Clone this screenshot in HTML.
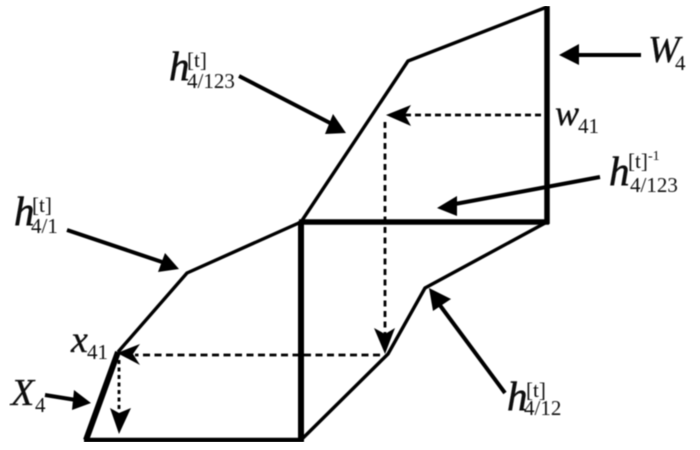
<!DOCTYPE html>
<html>
<head>
<meta charset="utf-8">
<style>
html,body{margin:0;padding:0;background:#fff;width:700px;height:450px;overflow:hidden}
svg{display:block}
text{font-family:"Liberation Serif",serif;fill:#111}
.i{font-style:italic;stroke:#111;stroke-width:.35px}
.h{font-size:41px;font-style:italic;stroke:#111;stroke-width:.6px}
.s{font-size:21px}
</style>
</head>
<body>
<svg width="700" height="450" viewBox="0 0 700 450" xmlns="http://www.w3.org/2000/svg">
<defs><filter id="b" x="0" y="0" width="100%" height="100%"><feGaussianBlur stdDeviation="0.5"/></filter></defs>
<g filter="url(#b)">
<g fill="none" stroke="#000" stroke-linejoin="round">
  <polyline points="301,222 408,61 547,7" stroke-width="3.4"/>
  <polyline points="301,222 187,273 118,352" stroke-width="3.4"/>
  <polyline points="301,440 388,354 425,288 547,222" stroke-width="3.4"/>
  <line x1="118" y1="352" x2="86" y2="440" stroke-width="6"/>
  <line x1="84" y1="440" x2="303" y2="440" stroke-width="4.5"/>
  <line x1="301" y1="221" x2="301" y2="442" stroke-width="6"/>
  <line x1="299" y1="222" x2="549" y2="222" stroke-width="5.5"/>
  <line x1="547" y1="6" x2="547" y2="224" stroke-width="5.5"/>
  <!-- dashed -->
  <line x1="541" y1="115" x2="405" y2="115" stroke-width="2.8" stroke-dasharray="6 4"/>
  <line x1="385" y1="122" x2="385" y2="335" stroke-width="2.8" stroke-dasharray="6 4.5"/>
  <line x1="380" y1="355" x2="135" y2="355" stroke-width="2.8" stroke-dasharray="7 4.5"/>
  <line x1="119" y1="360" x2="119" y2="412" stroke-width="2.8" stroke-dasharray="4 3.5"/>
  <!-- solid arrow shafts -->
  <line x1="641" y1="55" x2="574" y2="55" stroke-width="4"/>
  <line x1="600" y1="177" x2="455" y2="204" stroke-width="4"/>
  <line x1="239" y1="76" x2="332" y2="124" stroke-width="4"/>
  <line x1="67" y1="230" x2="165" y2="263" stroke-width="4"/>
  <line x1="45" y1="395" x2="76" y2="400" stroke-width="4"/>
  <line x1="505" y1="393" x2="439" y2="304" stroke-width="4"/>
</g>
<g fill="#000">
  <!-- dashed heads -->
  <polygon points="386,115 411,105 405,115 411,126"/>
  <polygon points="385,354 374,328 385,334 395,328"/>
  <polygon points="117,353 140,344 133,354 140,365"/>
  <polygon points="119,434 110,408 119,413 131,408"/>
  <!-- solid heads -->
  <polygon points="559,55 579,44 579,65"/>
  <polygon points="437,208 457,196 457,216"/>
  <polygon points="346,133 333,114 325,134"/>
  <polygon points="179,269 165,253 158,272"/>
  <polygon points="91,403 74,390 72,410"/>
  <polygon points="429,288 451,299 433,311"/>
</g>
<!-- labels -->
<text x="169" y="80" class="h">h</text>
<text x="187" y="67" class="s">[t]</text>
<text x="187" y="88" class="s">4/123</text>

<text x="14" y="225" class="h">h</text>
<text x="32" y="212" class="s">[t]</text>
<text x="31" y="233" class="s">4/1</text>

<text x="71" y="352" font-size="38" class="i">x</text>
<text x="87" y="359" class="s">41</text>

<text x="11" y="405" font-size="38" class="i">X</text>
<text x="35" y="412" class="s">4</text>

<text x="648" y="62" font-size="38" class="i">W</text>
<text x="675" y="70" class="s">4</text>

<text x="555" y="125" font-size="36" class="i">w</text>
<text x="578" y="133" class="s">41</text>

<text x="609" y="185" class="h">h</text>
<text x="628" y="168" class="s">[t]</text>
<text x="648" y="160" font-size="14">-1</text>
<text x="630" y="192" class="s">4/123</text>

<text x="507" y="410" class="h">h</text>
<text x="526" y="397" class="s">[t]</text>
<text x="524" y="415" class="s">4/12</text>
</g>
</svg>
</body>
</html>
